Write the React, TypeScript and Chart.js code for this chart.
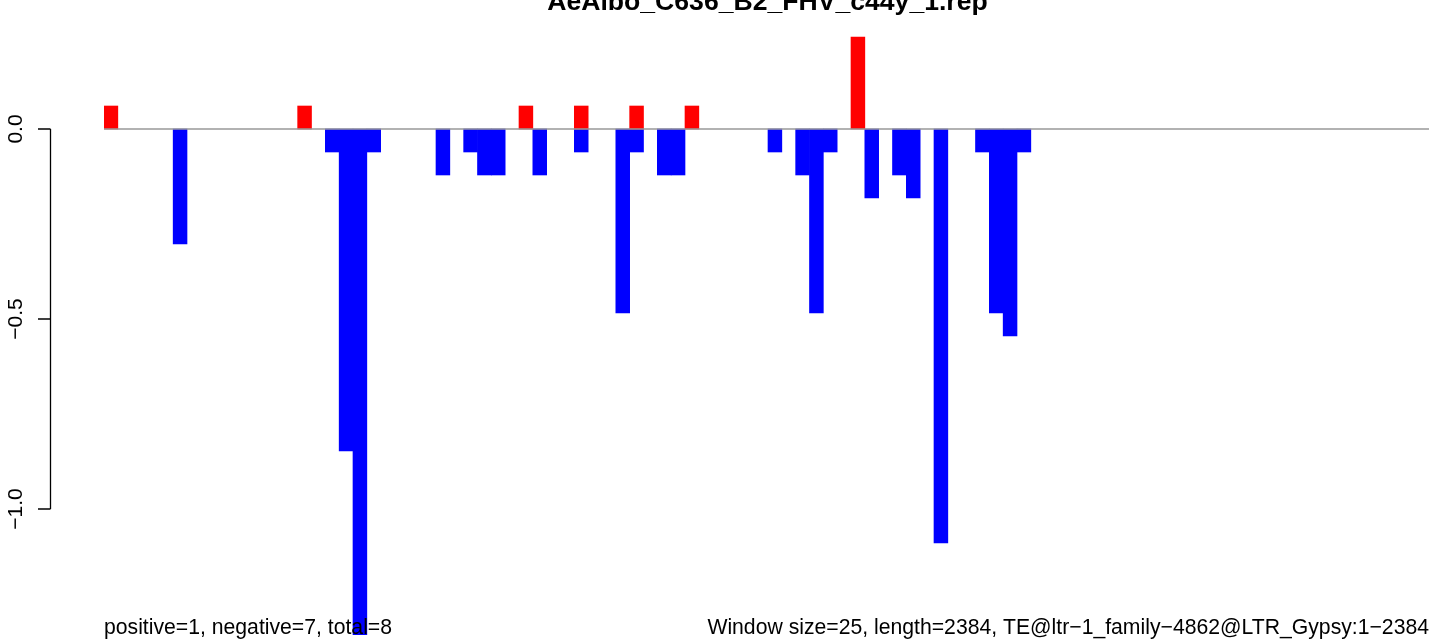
import React, { useEffect, useRef } from "react";
import { Chart, registerables } from "chart.js";

Chart.register(...registerables);

// ---- data ----
const binCount = 96;
const windowSize = 25;
const positiveBins = [0, 14, 30, 34, 38, 42, 54];
const positiveValues = [0.0605, 0.0605, 0.0605, 0.0605, 0.0605, 0.0605, 0.242];
const negativeBins = [5, 16, 17, 18, 19, 24, 26, 27, 28, 31, 34, 37, 38, 40, 41, 48, 50, 51, 52, 55, 57, 58, 60, 63, 64, 65, 66];
const negativeValues = [
  -0.3025, -0.0605, -0.847, -1.331, -0.0605, -0.121, -0.0605, -0.121, -0.121, -0.121, -0.0605, -0.484, -0.0605,
  -0.121, -0.121, -0.0605, -0.121, -0.484, -0.0605, -0.1815, -0.121, -0.1815, -1.089, -0.0605, -0.484, -0.5445, -0.0605,
];
const yTicks = [0, -0.5, -1.0];
const yTickLabels = ["0.0", "\u22120.5", "\u22121.0"];
const titleText = "AeAlbo_C636_B2_FHV_c44y_1.rep";
const footLeft = "positive=1, negative=7, total=8";
const footRight = "Window size=25, length=2384, TE@ltr\u22121_family\u22124862@LTR_Gypsy:1\u22122384";

const FONT = "'Liberation Sans', Arial, Helvetica, sans-serif";

function buildSeries(bins: number[], values: number[]): (number | null)[] {
  const arr: (number | null)[] = new Array(binCount).fill(null);
  bins.forEach((b, i) => {
    arr[b] = values[i];
  });
  return arr;
}

const overlayPlugin = {
  id: "rOverlay",
  afterDatasetsDraw(chart: any) {
    const { ctx, chartArea, scales } = chart;
    const y = scales.y;
    ctx.save();
    // zero line
    const y0 = y.getPixelForValue(0);
    ctx.strokeStyle = "#999999";
    ctx.lineWidth = 1.3;
    ctx.beginPath();
    ctx.moveTo(chartArea.left, y0);
    ctx.lineTo(chartArea.right, y0);
    ctx.stroke();

    // y axis (R style: only over tick range)
    const axisX = 50.5;
    const yTop = y.getPixelForValue(yTicks[0]);
    const yBot = y.getPixelForValue(yTicks[yTicks.length - 1]);
    ctx.strokeStyle = "#000000";
    ctx.lineWidth = 1.3;
    ctx.beginPath();
    ctx.moveTo(axisX, yTop);
    ctx.lineTo(axisX, yBot);
    yTicks.forEach((t) => {
      const py = y.getPixelForValue(t);
      ctx.moveTo(axisX, py);
      ctx.lineTo(38, py);
    });
    ctx.stroke();

    ctx.fillStyle = "#000000";
    ctx.font = `21px ${FONT}`;
    ctx.textAlign = "center";
    ctx.textBaseline = "alphabetic";
    yTicks.forEach((t, i) => {
      const py = y.getPixelForValue(t);
      ctx.save();
      ctx.translate(21.5, py);
      ctx.rotate(-Math.PI / 2);
      ctx.fillText(yTickLabels[i], 0, 0);
      ctx.restore();
    });

    // title
    ctx.font = `bold 26.6px ${FONT}`;
    ctx.textAlign = "center";
    ctx.fillText(titleText, 767.5, 10);

    // footers
    ctx.font = `21.2px ${FONT}`;
    ctx.textAlign = "left";
    ctx.fillText(footLeft, chartArea.left, 634);
    ctx.textAlign = "right";
    ctx.fillText(footRight, 1429, 634);
    ctx.restore();
  },
};

export default function App() {
  const canvasRef = useRef<HTMLCanvasElement | null>(null);

  useEffect(() => {
    if (!canvasRef.current) return;
    const labels = Array.from({ length: binCount }, (_, i) => String(i * windowSize + 1));
    const chart = new Chart(canvasRef.current, {
      type: "bar",
      data: {
        labels,
        datasets: [
          {
            label: "positive",
            data: buildSeries(positiveBins, positiveValues),
            backgroundColor: "#FF0000",
            borderWidth: 0,
            barPercentage: 1,
            categoryPercentage: 1,
            grouped: false,
          } as any,
          {
            label: "negative",
            data: buildSeries(negativeBins, negativeValues),
            backgroundColor: "#0000FF",
            borderWidth: 0,
            barPercentage: 1,
            categoryPercentage: 1,
            grouped: false,
          } as any,
        ],
      },
      options: {
        animation: false,
        responsive: true,
        maintainAspectRatio: false,
        layout: { padding: { left: 104, right: 0, top: 0, bottom: 0 } },
        plugins: {
          legend: { display: false },
          tooltip: { enabled: false },
          title: { display: false },
        },
        scales: {
          x: { type: "category", display: false, offset: true },
          y: { type: "linear", display: false, min: -510 / 380, max: 129 / 380 },
        },
      },
      plugins: [overlayPlugin],
    });
    return () => chart.destroy();
  }, []);

  return (
    <div
      style={{
        position: "absolute",
        left: 0,
        top: 0,
        width: 1429,
        height: 639,
        overflow: "hidden",
        background: "#ffffff",
      }}
    >
      <div style={{ position: "relative", width: 1432, height: 639 }}>
        <canvas ref={canvasRef} />
      </div>
    </div>
  );
}
